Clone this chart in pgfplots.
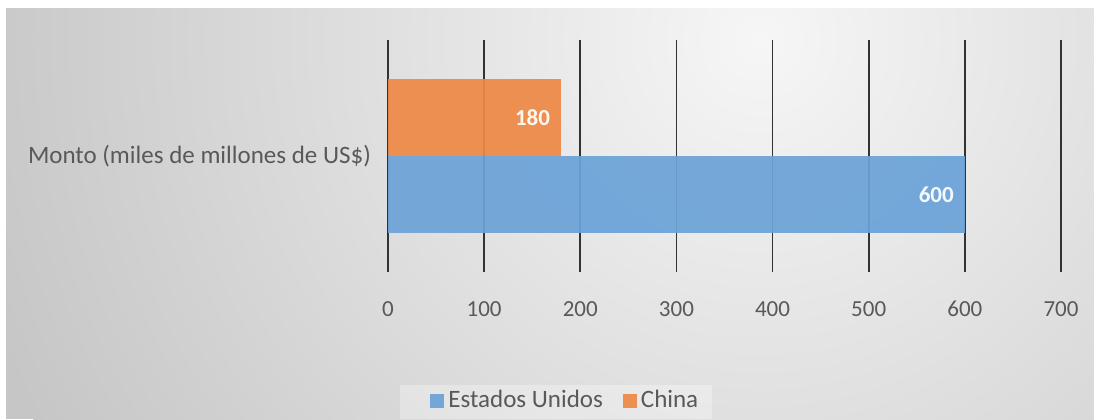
\documentclass[border=0pt]{standalone}
\usepackage{pgfplots}
\pgfplotsset{compat=1.18}
\usepackage{fontspec}
\setmainfont{Carlito}
\definecolor{usblue}{RGB}{108,163,216}
\definecolor{cnorange}{RGB}{237,137,70}
\definecolor{txt}{RGB}{89,89,89}
\definecolor{bgdark}{RGB}{198,198,198}
\definecolor{bglight}{RGB}{246,246,246}
\begin{document}
\begin{tikzpicture}
\fill[white] (0,0) rectangle (547pt,209.5pt);
\begin{scope}
\clip (3pt,0pt) rectangle (547pt,205.5pt);
\fill[bgdark] (3pt,0pt) rectangle (547pt,205.5pt);
\shade[inner color=bglight, outer color=bgdark] (380pt,190pt) circle (410pt);
\end{scope}
\fill[white, opacity=0.3] (200pt,0pt) rectangle (356pt,17pt);
\begin{axis}[
  at={(194pt,73.5pt)}, anchor=south west,
  scale only axis, width=336.5pt, height=116pt,
  xbar, bar shift=0pt, bar width=1,
  xmin=0, xmax=700, ymin=-1.5, ymax=1.5,
  xtick={0,100,...,700},
  ytick={0}, yticklabels={Monto (miles de millones de US\$)},
  axis line style={draw=none},
  major tick length=0pt,
  xmajorgrids, major grid style={black!80, line width=0.9pt},
  tick label style={font=\fontsize{11.5}{13}\selectfont, text=txt},
  xticklabel style={anchor=base, yshift=-22pt},
  yticklabel style={xshift=-5pt, font=\fontsize{12.5}{14}\selectfont},
  /pgf/number format/assume math mode=true,
  nodes near coords,
  every node near coord/.append style={anchor=east, xshift=-2pt, text=white, font=\fontsize{11.5}{13}\selectfont\bfseries},
  legend style={at={(0.265,-0.635)}, anchor=south, legend columns=2, draw=none, fill=none, font=\fontsize{12.5}{14}\selectfont, text=txt, /tikz/every even column/.append style={column sep=8pt}},
  legend image code/.code={\fill[#1] (0pt,-3.5pt) rectangle (7pt,3.5pt);},
]
\addplot[fill=usblue, draw=none, fill opacity=0.93] coordinates {(600,-0.5)};
\addplot[fill=cnorange, draw=none, fill opacity=0.93] coordinates {(180,0.5)};
\legend{Estados Unidos, China}
\end{axis}
\end{tikzpicture}
\end{document}
